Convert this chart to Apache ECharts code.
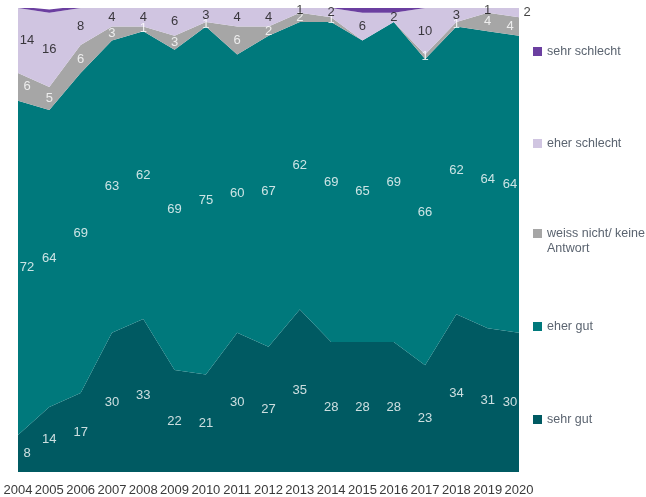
<!DOCTYPE html>
<html>
<head>
<meta charset="utf-8">
<script src="https://cdn.jsdelivr.net/npm/echarts@6/dist/echarts.min.js"></script>
<style>
html,body{margin:0;padding:0;background:#fff;}
#chart{width:646px;height:497px;}
</style>
</head>
<body>
<div id="chart"></div>
<script>
const years = ['2004','2005','2006','2007','2008','2009','2010','2011','2012','2013','2014','2015','2016','2017','2018','2019','2020'];
const sehrGut      = [8,14,17,30,33,22,21,30,27,35,28,28,28,23,34,31,30];
const eherGut      = [72,64,69,63,62,69,75,60,67,62,69,65,69,66,62,64,64];
const weissNicht   = [6,5,6,3,1,3,1,6,2,2,1,0,0,1,1,4,4];
const eherSchlecht = [14,16,8,4,4,6,3,4,4,1,2,6,2,10,3,1,2];
const sehrSchlecht = [0.3,0.7,0.4,0.3,0.3,0.3,0.3,0.3,0.3,0.5,0.8,1,1,0.8,0.3,0,0];

const names = ['sehr gut','eher gut','weiss nicht/ keine Antwort','eher schlecht','sehr schlecht'];
const values = [sehrGut, eherGut, weissNicht, eherSchlecht, sehrSchlecht];
const colors = ['#005a62','#00797c','#a6a6a6','#d0c5e1','#6b3fa0'];
const labelColors = ['#ffffff','#ffffff','#ffffff','#111111',null];
const FONT = '"Liberation Sans", Arial, sans-serif';

const series = [];
names.forEach((n,i)=>{
  series.push({
    name:n, type:'line', stack:'total', data:values[i],
    symbol:'none', lineStyle:{width:0}, areaStyle:{color:colors[i],opacity:1},
    itemStyle:{color:colors[i]}, emphasis:{disabled:true}, z:2
  });
});
// label scatter series positioned at band middles
const base = years.map(()=>0);
names.forEach((n,i)=>{
  const pts = [];
  years.forEach((y,j)=>{
    const v = values[i][j];
    const mid = base[j] + v/2;
    base[j] += v;
    if (labelColors[i] && v >= 1) {
      let off = 0;
      if (j === 0) off = 9;
      if (j === years.length-1) off = (i === 3 ? 8 : -9);
      pts.push({value:[j, mid, v], label:{offset:[off,0]}});
    }
  });
  if (labelColors[i]) {
    series.push({
      type:'scatter', data:pts, symbolSize:0, silent:true, z:5,
      label:{show:true, position:'inside', formatter:p=>p.value[2],
        color:labelColors[i], fontSize:13, fontFamily:FONT}
    });
  }
});

const legendTops = [40, 132, 206, 315, 408];
const legendOrder = ['sehr schlecht','eher schlecht','weiss nicht/ keine Antwort','eher gut','sehr gut'];
const legends = legendOrder.map((n,k)=>({
  data:[n], left:528, top:legendTops[k], orient:'vertical',
  icon:'rect', itemWidth:9, itemHeight:9, itemGap:0, selectedMode:false,
  formatter: nm => nm === 'weiss nicht/ keine Antwort' ? ' \nweiss nicht/ keine\nAntwort' : nm,
  textStyle: n === 'weiss nicht/ keine Antwort'
    ? {color:'#5b6470', fontSize:12.5, fontFamily:FONT, lineHeight:15}
    : {color:'#5b6470', fontSize:12.5, fontFamily:FONT}
}));

const chart = echarts.init(document.getElementById('chart'));
chart.setOption({
  animation:false,
  backgroundColor:'#ffffff',
  legend: legends,
  grid:{left:18, right:127, top:8, bottom:25},
  xAxis:{type:'category', data:years, boundaryGap:false,
    axisLine:{show:false}, axisTick:{show:false},
    axisLabel:{color:'#3a3a3a', fontSize:13, fontFamily:FONT, margin:12, interval:0}},
  yAxis:{type:'value', min:0, max:100, show:false},
  series: series
});
</script>
</body>
</html>
